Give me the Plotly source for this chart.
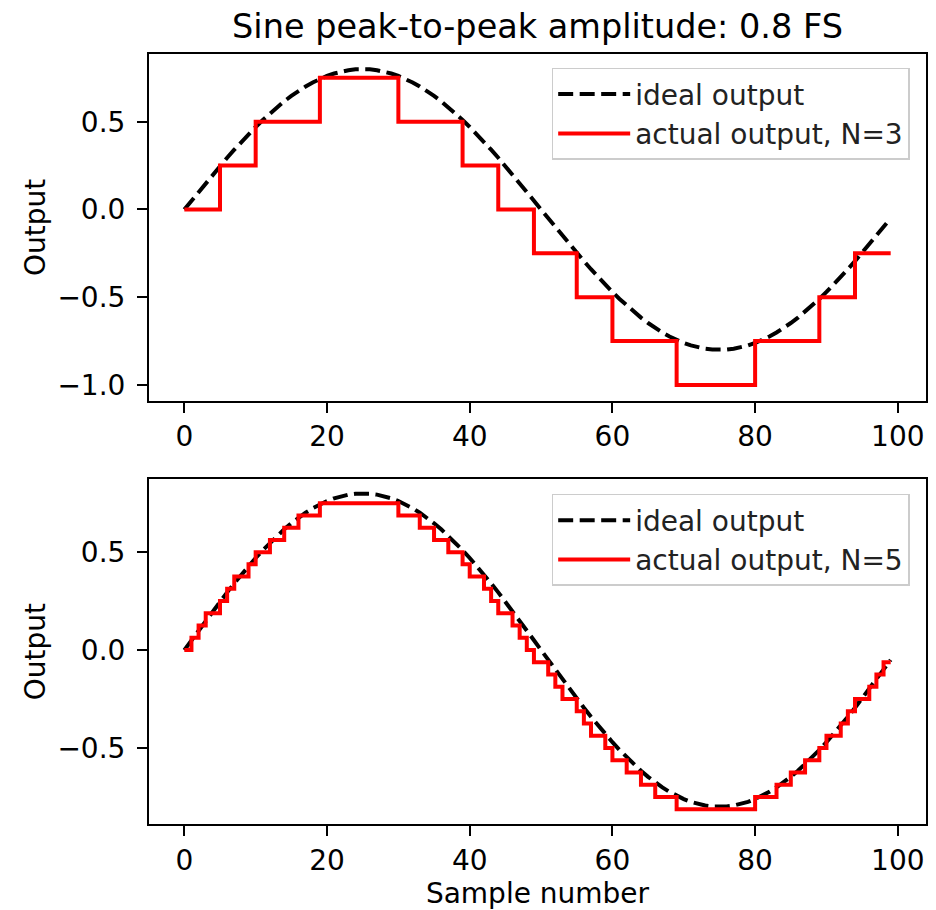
import plotly.graph_objects as go

samples = list(range(100))

ideal_output = [
    0.0, 0.0502, 0.1003, 0.1499, 0.1990, 0.2472, 0.2945, 0.3406, 0.3854, 0.4287,
    0.4702, 0.5099, 0.5476, 0.5832, 0.6164, 0.6472, 0.6755, 0.7010, 0.7239, 0.7438,
    0.7608, 0.7749, 0.7858, 0.7937, 0.7984, 0.8000, 0.7984, 0.7937, 0.7858, 0.7749,
    0.7608, 0.7438, 0.7239, 0.7010, 0.6755, 0.6472, 0.6164, 0.5832, 0.5476, 0.5099,
    0.4702, 0.4287, 0.3854, 0.3406, 0.2945, 0.2472, 0.1990, 0.1499, 0.1003, 0.0502,
    0.0, -0.0502, -0.1003, -0.1499, -0.1990, -0.2472, -0.2945, -0.3406, -0.3854, -0.4287,
    -0.4702, -0.5099, -0.5476, -0.5832, -0.6164, -0.6472, -0.6755, -0.7010, -0.7239, -0.7438,
    -0.7608, -0.7749, -0.7858, -0.7937, -0.7984, -0.8000, -0.7984, -0.7937, -0.7858, -0.7749,
    -0.7608, -0.7438, -0.7239, -0.7010, -0.6755, -0.6472, -0.6164, -0.5832, -0.5476, -0.5099,
    -0.4702, -0.4287, -0.3854, -0.3406, -0.2945, -0.2472, -0.1990, -0.1499, -0.1003, -0.0502,
]

actual_n3 = [
    0, 0, 0, 0, 0, 0, 0.25, 0.25, 0.25, 0.25,
    0.25, 0.5, 0.5, 0.5, 0.5, 0.5, 0.5, 0.5, 0.5, 0.5,
    0.75, 0.75, 0.75, 0.75, 0.75, 0.75, 0.75, 0.75, 0.75, 0.75,
    0.75, 0.5, 0.5, 0.5, 0.5, 0.5, 0.5, 0.5, 0.5, 0.5,
    0.25, 0.25, 0.25, 0.25, 0.25, 0, 0, 0, 0, 0,
    -0.25, -0.25, -0.25, -0.25, -0.25, -0.25, -0.5, -0.5, -0.5, -0.5,
    -0.5, -0.75, -0.75, -0.75, -0.75, -0.75, -0.75, -0.75, -0.75, -0.75,
    -1.0, -1.0, -1.0, -1.0, -1.0, -1.0, -1.0, -1.0, -1.0, -1.0,
    -1.0, -0.75, -0.75, -0.75, -0.75, -0.75, -0.75, -0.75, -0.75, -0.75,
    -0.5, -0.5, -0.5, -0.5, -0.5, -0.25, -0.25, -0.25, -0.25, -0.25,
]

actual_n5 = [
    0, 0, 0.0625, 0.125, 0.1875, 0.1875, 0.25, 0.3125, 0.375, 0.375,
    0.4375, 0.5, 0.5, 0.5625, 0.5625, 0.625, 0.625, 0.6875, 0.6875, 0.6875,
    0.75, 0.75, 0.75, 0.75, 0.75, 0.75, 0.75, 0.75, 0.75, 0.75,
    0.75, 0.6875, 0.6875, 0.6875, 0.625, 0.625, 0.5625, 0.5625, 0.5, 0.5,
    0.4375, 0.375, 0.375, 0.3125, 0.25, 0.1875, 0.1875, 0.125, 0.0625, 0,
    -0.0625, -0.0625, -0.125, -0.1875, -0.25, -0.25, -0.3125, -0.375, -0.4375, -0.4375,
    -0.5, -0.5625, -0.5625, -0.625, -0.625, -0.6875, -0.6875, -0.75, -0.75, -0.75,
    -0.8125, -0.8125, -0.8125, -0.8125, -0.8125, -0.8125, -0.8125, -0.8125, -0.8125, -0.8125,
    -0.8125, -0.75, -0.75, -0.75, -0.6875, -0.6875, -0.625, -0.625, -0.5625, -0.5625,
    -0.5, -0.4375, -0.4375, -0.375, -0.3125, -0.25, -0.25, -0.1875, -0.125, -0.0625,
]

x_ticks = [0, 20, 40, 60, 80, 100]
y_ticks_top = [-1.0, -0.5, 0.0, 0.5]
y_ticks_bottom = [-0.5, 0.0, 0.5]

FONT = "DejaVu Sans"
DASH = "15px,6.5px"

fig = go.Figure()
fig.add_trace(go.Scatter(x=samples, y=ideal_output, mode="lines", name="ideal output",
                         line=dict(color="black", width=4, dash=DASH),
                         xaxis="x", yaxis="y", legend="legend"))
fig.add_trace(go.Scatter(x=samples, y=actual_n3, mode="lines", name="actual output, N=3",
                         line=dict(color="#ff0000", width=4, shape="vh"),
                         xaxis="x", yaxis="y", legend="legend"))
fig.add_trace(go.Scatter(x=samples, y=ideal_output, mode="lines", name="ideal output",
                         line=dict(color="black", width=4, dash=DASH),
                         xaxis="x2", yaxis="y2", legend="legend2"))
fig.add_trace(go.Scatter(x=samples, y=actual_n5, mode="lines", name="actual output, N=5",
                         line=dict(color="#ff0000", width=4, shape="vh"),
                         xaxis="x2", yaxis="y2", legend="legend2"))

axis_common = dict(
    showline=True, mirror=True, linecolor="black", linewidth=2,
    ticks="outside", ticklen=10, tickwidth=2, tickcolor="black",
    showgrid=False, zeroline=False,
    tickfont=dict(family=FONT, size=28, color="black"),
)

legend_common = dict(
    font=dict(family=FONT, size=28, color="#222222"),
    bgcolor="rgba(255,255,255,0.8)", bordercolor="#cccccc", borderwidth=1.5,
    xanchor="right", yanchor="top", xref="paper", yref="paper",
    itemwidth=72,
)

# page body has an 8px margin, so the figure is 8px smaller than the window
fig.update_layout(
    width=928, height=902,
    margin=dict(l=141, r=8, t=46, b=86),
    paper_bgcolor="white", plot_bgcolor="white",
    title=dict(text="Sine peak-to-peak amplitude: 0.8 FS", x=0.5, xref="paper",
               xanchor="center", y=1 - 18 / 902, yref="container", yanchor="middle",
               font=dict(family=FONT, size=33.5, color="black")),
    xaxis=dict(domain=[0, 1], anchor="y", range=[-4.95, 103.95], tickvals=x_ticks,
               ticktext=[str(v) for v in x_ticks], **axis_common),
    yaxis=dict(domain=[0.5497, 1.0], anchor="x", range=[-1.09, 0.886], tickvals=y_ticks_top,
               ticktext=["\u22121.0", "\u22120.5", "0.0", "0.5"], ticklabelstandoff=6,
               title=dict(text="Output", font=dict(family=FONT, size=28, color="black"), standoff=4),
               **axis_common),
    xaxis2=dict(domain=[0, 1], anchor="y2", range=[-4.95, 103.95], tickvals=x_ticks,
                ticktext=[str(v) for v in x_ticks],
                title=dict(text="Sample number", font=dict(family=FONT, size=28, color="black"), standoff=6),
                **axis_common),
    yaxis2=dict(domain=[0.0, 0.4477], anchor="x2", range=[-0.888, 0.872], tickvals=y_ticks_bottom,
                ticktext=["\u22120.5", "0.0", "0.5"], ticklabelstandoff=6,
                title=dict(text="Output", font=dict(family=FONT, size=28, color="black"), standoff=4),
                **axis_common),
    legend=dict(x=0.979, y=0.982, **legend_common),
    legend2=dict(x=0.979, y=0.4286, **legend_common),
    showlegend=True,
)

fig.write_html("out.html")
